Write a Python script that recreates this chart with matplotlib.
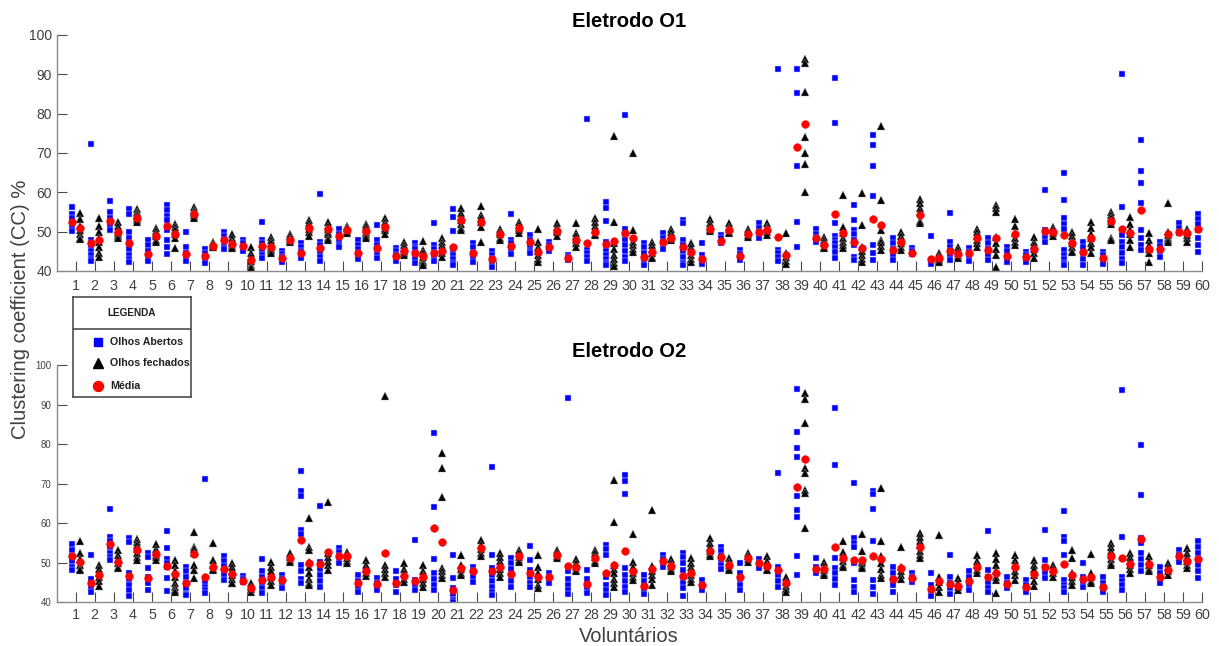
import numpy as np
import matplotlib
matplotlib.use("Agg")
import matplotlib.pyplot as plt

plt.rcParams['font.family'] = ['Liberation Sans', 'DejaVu Sans']

voluntarios = list(range(1, 61))
x_ticklabels = [str(v) for v in voluntarios]
y_ticks = [40, 50, 60, 70, 80, 90, 100]

# ---------------- Eletrodo O1 ----------------
o1_abertos = [
    [56.3, 54.5, 53.5, 52, 51, 50.2], [72.2, 48, 47, 46, 45, 44, 43, 42.5],
    [57.8, 55, 53.5, 52.5, 51.5, 50.5], [55.7, 54.5, 50, 48.5, 47, 45.5, 44, 43, 42.2],
    [47.8, 46.5, 45, 44, 43, 42.5], [56.8, 55.5, 54, 53, 50.5, 48, 46, 44.3],
    [50, 46.2, 44.5, 43.5, 42.5], [45.5, 44.5, 43.5, 42.5, 42],
    [50, 49, 48, 47, 46, 45.5], [48, 47, 46, 45.5, 45],
    [52.4, 48, 47, 46, 45, 44, 43.3], [45.2, 44.3, 43.5, 42.8, 42.4],
    [47, 46, 45, 44.5, 43.5, 43.2], [59.6, 47.5, 46.5, 45.5, 44.5, 43.5, 42.5],
    [50.6, 49.5, 48.5, 47.5, 46.5, 46], [47.8, 46.5, 45.5, 44.5, 43.5, 43],
    [51.8, 47.9, 46.5, 45, 44, 43.3], [45.8, 45, 44, 43.2, 42.5],
    [47, 46.2, 45.5, 44.5, 43, 42], [52.1, 46.6, 45.5, 44.5, 43.5, 42.5],
    [55.7, 53.8, 50.2, 45.3, 44, 43, 42, 41.5], [47, 46, 44.7, 43.5, 42.4],
    [45, 44, 43, 42, 41], [54.6, 47.9, 47, 46, 45, 44.2],
    [49.1, 48, 47, 46, 45, 44.5], [47.4, 46.5, 45.8, 45],
    [44.1, 43.5, 43, 42.8], [78.7, 45.3, 44.5, 43.5, 42.5],
    [57.5, 56, 52.8, 47.4, 46, 45, 44, 43, 42, 41.5], [79.6, 50.8, 49.5, 48, 46.5, 45, 43.5, 42.5],
    [47, 46, 44.5, 43, 42, 41.5], [49.6, 48.5, 47.5, 46.5, 45.5],
    [53, 52.2, 47.9, 46.5, 45, 43.5, 42, 41.5], [47.2, 44.1, 43, 42.2, 41.9],
    [49.1, 48.3, 47.5, 47], [45.3, 44.3, 43.5, 42.8],
    [52.1, 51, 50, 49, 48.3], [91.4, 45.3, 44.5, 43.5, 42.5],
    [91.4, 85.3, 66.6, 52.5, 46], [50.8, 49.5, 48.5, 47.4],
    [89.1, 77.6, 52.3, 49, 48, 47, 46, 44.9, 43.2], [56.8, 53, 50.5, 49.5, 48, 46.5, 43.6, 42.8],
    [74.7, 72.1, 66.7, 59, 46.6, 44.5, 42.8], [48.3, 47, 45.5, 44, 42.8],
    [45.8, 45, 44.2], [48.9, 42.8, 42.3, 41.9],
    [54.8, 47.4, 46.2, 45, 44, 42.8], [45.8, 44.8, 43.8, 42.5],
    [48.3, 47, 45.5, 44, 42.8], [46.2, 45, 43.5, 42.4],
    [44.9, 44, 43, 42.4], [60.6, 50.4, 49.5, 48.5, 47.5],
    [64.8, 58, 53.4, 52, 50.8, 45.3, 44, 43, 42, 41.5], [47.4, 46, 44.5, 43, 41.5],
    [44.9, 44, 43, 41.9], [90, 56.3, 49.1, 47.5, 46, 44.5, 43, 42],
    [73.2, 65.5, 62.4, 57.3, 50.4, 48.5, 46.5, 45.3], [47.4, 46.3, 45, 43.6],
    [52.1, 51, 50, 49.6], [54.6, 53.2, 52, 50.5, 48.5, 46.5, 44.9],
]
o1_abertos_media = [
    52.4, 47.2, 52.8, 47.0, 44.3, 51.5, 44.3, 43.8, 47.9, 46.3,
    46.3, 43.4, 44.7, 45.8, 48.9, 44.7, 45.8, 43.8, 44.7, 44.7,
    46.2, 44.7, 43.0, 46.3, 47.4, 46.2, 43.2, 47.2, 46.8, 49.6,
    43.6, 47.4, 46.2, 43.1, 47.7, 43.8, 50.0, 48.7, 71.6, 48.5,
    54.6, 47.4, 53.1, 45.3, 44.5, 43.0, 45.2, 44.5, 45.3, 43.8,
    43.5, 50.2, 49.1, 44.9, 43.2, 50.8, 55.5, 45.5, 50.0, 50.7,
]
o1_fechados = [
    [54.8, 53.2, 51.5, 50.5, 49.5, 48.5, 48.2], [53.5, 51.5, 50, 48.5, 47.5, 46, 44.5, 43.5],
    [52.5, 51.5, 50.5, 50, 49.5, 48.8, 48.5], [55.8, 55, 54.5, 54, 53.5, 53, 52.5],
    [51, 50.2, 49.5, 48.8, 48, 47.5], [52, 51.2, 50.5, 49.5, 48.5, 45.8],
    [56.3, 55.5, 55, 54.5, 54, 53.5], [47.5, 47, 46.5, 46.2, 46],
    [49.5, 48.5, 47.5, 47, 46.5, 46, 45.8], [46, 44.5, 43.5, 42.5, 41.5, 41, 40.7],
    [48.7, 48, 47, 46, 45.5, 45, 44.5], [49.5, 48.8, 48.2, 47.8, 47.5],
    [53, 52.3, 51.5, 50.8, 50, 48.8], [52.5, 51.5, 50.8, 50, 49.5, 48.5, 48],
    [51.5, 51, 50.5, 50, 49.7], [52, 51.5, 50.8, 50, 49.5, 49, 48.5],
    [53.4, 52.5, 51.8, 51, 50.3, 49.5], [47.4, 46.5, 45.8, 45, 44.5, 44],
    [47.7, 45.3, 44.5, 43.5, 42.5, 42, 41.5], [48.3, 47.5, 46.5, 45.5, 44.5, 43.5],
    [55.9, 54.8, 53.8, 53, 52, 51, 50.4], [56.5, 54.2, 53.5, 52.5, 51.3, 47.5],
    [50.6, 50, 49.3, 48.5, 48], [52.5, 51.8, 51, 50.3, 49.6],
    [50.8, 47.4, 46, 45, 44, 43, 42.4], [52.1, 51.3, 50.5, 49.8, 49],
    [52.1, 49.6, 48.8, 48, 47.2, 46.2], [53.4, 52.5, 51.5, 50.5, 49.5, 49.1],
    [74.3, 52.5, 47, 45.5, 44, 43, 42, 41.2], [70, 50.4, 47.4, 46.5, 45.5, 44.9],
    [47.4, 46.5, 45.5, 44.5, 43.5, 43.2], [50.6, 49.8, 49, 48.3, 48],
    [47, 46, 45, 44, 43, 42.4], [53.1, 52.3, 51.5, 50.8, 50.2],
    [52.1, 51.3, 50.6, 50, 49.6], [50.6, 49.8, 49.2, 48.7],
    [52.1, 51.3, 50.6, 49.8, 49.1], [49.7, 44.7, 43.5, 42.5, 41.9],
    [93.8, 93, 85.5, 74.1, 70, 67.3, 60], [48.7, 47.8, 47, 46.2, 45.8],
    [59.3, 51.3, 49.6, 48.5, 47.5, 46.5, 45.8], [59.9, 51.7, 46.2, 45, 44, 43, 42.4],
    [76.8, 58, 50.4, 48, 47.4, 46.3, 45.3], [50, 49, 48, 47, 46, 45.3],
    [58.4, 57.2, 56, 55, 52.8, 52.1], [44.5, 43.8, 43.2, 42.8, 42.4],
    [46.2, 45.3, 44.5, 43.8, 43.2], [50.8, 49.8, 48.8, 47.8, 47, 46.2],
    [56.8, 56, 55, 48.7, 47, 45.5, 44.1, 40.9], [53.1, 51.5, 49.6, 48.5, 47.5, 46.6],
    [48.7, 47.5, 46.5, 45.5, 44.5, 43.2], [51.3, 50.5, 49.7, 48.9],
    [50, 49, 48, 47, 46, 45, 44.9], [52.5, 51, 49.5, 48.3, 47, 46, 44.5],
    [55, 54.3, 53.5, 52.8, 52, 48.5, 47.9], [53.8, 52, 50.5, 49.5, 48, 46.2],
    [49.6, 48, 46.5, 45.5, 44.5, 42.4], [57.2, 50, 49.2, 48.5, 47.8, 47.4],
    [50.8, 50, 49.2, 48.3, 47.4], [],
]
o1_fechados_media = [
    51.0, 47.9, 50.0, 53.4, 49.0, 49.4, 54.4, 46.3, 46.9, 42.8,
    46.2, 47.9, 51.0, 50.6, 50.4, 50.2, 51.3, 45.2, 43.8, 45.2,
    52.9, 52.5, 49.3, 51.0, 44.9, 50.2, 47.9, 50.0, 47.6, 48.5,
    44.9, 48.5, 44.9, 50.8, 50.4, 49.4, 50.4, 44.1, 77.3, 46.6,
    49.6, 45.8, 51.8, 47.4, 54.2, 43.4, 44.3, 48.3, 48.5, 49.3,
    45.5, 49.8, 47.0, 48.3, 52.8, 49.7, 45.5, 49.4, 49.6, np.nan,
]

# ---------------- Eletrodo O2 ----------------
o2_abertos = [
    [54.8, 53.3, 51.8, 50.5, 49, 48.2], [52, 46, 44.5, 43.5, 42.7],
    [63.6, 56.6, 55.5, 54, 52.5, 51.5, 50.7], [56.4, 55.3, 47.3, 46, 44.5, 43, 41.5],
    [52.5, 51.5, 48.6, 46.5, 45, 43.2], [58.1, 53.7, 51, 50, 49, 46.1, 42.9],
    [49, 47.8, 46.5, 45, 43.5, 42, 41.8], [71.2, 45.2, 44, 43, 42.3],
    [51.6, 50.5, 49.3, 48, 47, 45.7], [46.7, 46, 45.2],
    [50.9, 47.8, 46.5, 45, 43.5, 42.3], [46.9, 45.8, 44.5, 43.5],
    [73.2, 68.2, 67, 58.3, 57.2, 49.5, 48, 46, 44.8], [64.5, 50.3, 48.5, 47, 45.5, 44],
    [53.7, 52.8, 51.8, 50.8, 49.9], [46.9, 45.5, 44, 42.7],
    [46.1, 45, 44, 43.1], [47.8, 46, 44.5, 42.7],
    [55.8, 45.7, 44.5, 43.1], [82.8, 64.2, 50.9, 47.3, 46, 44.5, 43.1],
    [52, 46.1, 43.5, 42, 40.5, 40.2], [49, 47.8, 46.5, 45.2],
    [74.3, 52, 48.6, 47, 45.5, 44, 42.5, 41.9], [51.1, 50, 48.5, 47, 45.5, 44],
    [54.3, 50.7, 48.2, 46.5, 45, 44], [47.5, 46.3, 45.2, 44.8],
    [91.8, 47.8, 46, 44.5, 43, 42.1], [48.2, 46, 44.5, 43.3, 42.3],
    [54.5, 53.5, 52, 46.3, 44.4, 43, 41.9], [72.2, 70.7, 67.3, 48.6, 47, 45.5, 44, 42.7],
    [46.9, 45.5, 44, 43, 42.1], [52, 51, 50, 49],
    [52.4, 51.5, 50, 48.2, 46.5, 45, 43.5, 41.7], [45.7, 44.5, 43.1],
    [54.1, 53, 51.8, 50.5, 49.5, 48.4], [49.9, 47.3, 46, 44.5, 43.1],
    [50.9, 50, 49.2, 48.6], [72.7, 49, 47, 45.5, 44],
    [93.9, 83.2, 79, 76.9, 66.8, 63.4, 61.7, 51.6, 46.9], [51.1, 49, 48, 47.3],
    [89.1, 74.8, 51.1, 48.6, 47.5, 46, 44.4], [70.3, 56.2, 55, 54.1, 49.9, 45.7, 44, 42.7],
    [68.2, 67.3, 63.6, 55.5, 45.7, 44, 42.1], [49, 47.5, 46, 44.5, 42.7],
    [47.5, 46.5, 45.2], [47.5, 44.4, 43, 41.6],
    [52, 46.5, 45, 43.5, 42.1], [47.8, 46.3, 44.5, 43.1],
    [58.1, 48.2, 46.5, 45, 43.5, 42.7], [46.3, 45, 43.5],
    [45.7, 44.5, 43.3, 42.7], [58.3, 50.7, 49, 47.5, 46.1],
    [63, 56.6, 55.5, 52, 45.7, 44.5, 43.5, 42.7], [49.9, 46.5, 45.2, 44],
    [46.5, 45, 43.8, 42.7], [93.8, 56.5, 46.5, 45.5, 44.3, 43.1],
    [79.7, 67.2, 56.2, 54.9, 52.5, 51, 49.5, 47.8], [49, 47.5, 46, 44.8],
    [53.2, 52, 51, 50.3], [55.4, 54, 52.5, 51, 49.5, 48, 46.1],
]
o2_abertos_media = [
    51.7, 45.0, 54.7, 46.7, 46.1, 49.2, 44.8, 46.5, 48.4, 45.4,
    45.7, 45.7, 55.8, 49.7, 51.7, 44.8, 44.6, 44.8, 45.4, 58.9,
    43.1, 47.8, 47.9, 47.2, 47.5, 46.3, 49.2, 44.6, 47.3, 53.1,
    44.1, 50.5, 46.7, 44.4, 51.4, 46.3, 49.9, 48.2, 69.3, 48.4,
    54.1, 50.7, 51.7, 45.9, 46.2, 43.3, 44.6, 45.4, 46.3, 44.6,
    43.8, 48.9, 49.6, 45.8, 43.8, 51.3, 55.9, 46.3, 51.6, 50.9,
]
o2_fechados = [
    [55.4, 52.4, 51, 49.5, 48.5, 48.2], [49.5, 48.5, 47.5, 46.5, 45.5, 44.1],
    [53.2, 52, 51, 50, 49, 48.6], [56, 55.3, 54.5, 53.5, 52.5, 51.5, 50.8],
    [54.8, 53.5, 52.8, 52, 51.5, 50.8], [50.7, 49.5, 48, 46.5, 45, 44, 43, 42.7],
    [57.9, 54.1, 53.5, 52.4, 49.4, 48.2, 46.1], [55.1, 50.7, 49.5, 48.5, 48.2],
    [50, 49, 48, 47, 46, 45, 44.8], [44.8, 44, 43.3, 42.7],
    [50.3, 49, 48, 46.5, 45.5, 44.4], [52.4, 51.5, 50.8, 50.3],
    [61.3, 54.1, 53.2, 50.3, 49, 47.5, 46, 45, 44.4], [65.3, 52.4, 51.5, 50.5, 49.5, 48.2],
    [52.8, 52, 51.3, 50.5, 49.9], [50.7, 49.5, 48.5, 47.5, 46.7],
    [92.2, 49.5, 48.5, 47.5, 46.5], [49.9, 48.5, 47.3, 46, 45.2],
    [49.5, 48, 47, 46, 45, 44], [77.7, 73.9, 66.6, 48.8, 48, 47, 46.1],
    [52, 49.5, 48.5, 47.5, 46.9], [55.8, 54.5, 53.5, 52.5, 51.6],
    [52.4, 51.5, 50.5, 49.5, 48.5, 47.5, 46.5], [53.2, 52.4, 51.5, 50.8, 50.3],
    [52, 49, 47.3, 46, 44.5, 43.5], [53.2, 52.5, 51.8, 51.1],
    [50.9, 50, 49, 48.3, 47.8], [53.2, 52.4, 51.5, 50.5, 49.9],
    [71, 60.4, 49.5, 48.5, 47.5, 46, 45, 44], [57.3, 50.3, 49, 47.5, 46.5, 45.7],
    [63.4, 49.2, 48, 47, 45.8, 44.4], [50.9, 50, 49.2, 48.4, 47.8],
    [51.1, 50, 49, 48, 47, 46, 45.2], [56.2, 55, 54, 53, 52.2, 51.6],
    [51.1, 50.3, 49.5, 48.8, 48.2], [52.4, 51.6, 50.9, 50.3],
    [51.6, 50.5, 49.5, 48.5, 48.2], [46.3, 45.2, 44.2, 43.3, 42.7],
    [92.9, 91.4, 85.3, 73.9, 72.8, 68.4, 67.6, 58.7], [50.3, 49.3, 48.3, 47.5, 46.9],
    [55.4, 52.8, 51.5, 50.5, 49.5, 49], [57.2, 53, 50.5, 49.9, 49.2, 48.6],
    [68.9, 55.4, 51.6, 50, 48.5, 47, 46.1], [54.1, 49, 48, 47, 45.8],
    [57.5, 56.5, 55.5, 54.5, 53, 52, 51.1], [57, 46.5, 45.2, 44, 42.7],
    [46.1, 45, 44, 43.1], [52, 50.5, 49.5, 48.3, 47.3],
    [52.4, 51, 49.5, 48, 46.5, 45.7, 42.3], [52, 50.8, 49.5, 48, 46.8, 45.7],
    [50.7, 49.5, 48.5, 47, 45.5, 44.1], [49.5, 48.5, 47.5, 46.5],
    [53.2, 51.1, 47.3, 46.5, 45.5, 44.4], [52.2, 47.3, 46.3, 45.5, 44.8],
    [54.9, 54, 53, 52, 51, 50, 49.5], [52.4, 51.5, 50.5, 49.5, 48.5, 47.3],
    [51.6, 50.5, 49.5, 48.5, 47.8], [49.9, 49, 48, 46.9],
    [53.7, 52.5, 51.5, 50.5, 49.5, 48.6], [],
]
o2_fechados_media = [
    50.3, 46.9, 50.3, 53.2, 52.2, 47.1, 52.2, 49.0, 47.2, 43.5,
    46.3, 51.1, 50.0, 52.8, 51.7, 47.8, 52.4, 46.7, 46.3, 55.2,
    48.6, 53.7, 49.0, 51.8, 46.3, 52.0, 49.0, 51.1, 49.5, 47.8,
    48.4, 49.2, 47.5, 53.0, 49.5, 51.1, 49.2, 44.8, 76.2, 48.4,
    51.3, 50.7, 50.9, 48.6, 53.9, 45.5, 44.2, 49.0, 47.5, 48.9,
    47.2, 47.8, 46.9, 46.5, 51.7, 49.7, 49.7, 48.2, 50.5, np.nan,
]

W, H = 1219, 646
fig = plt.figure(figsize=(W / 100, H / 100), dpi=100)

AX_L, AX_R = 56.5, 1202
ax1 = fig.add_axes([AX_L / W, (H - 271) / H, (AX_R - AX_L) / W, 236 / H])
ax2 = fig.add_axes([AX_L / W, (H - 602.3) / H, (AX_R - AX_L) / W, 237 / H])

OFF = 0.21
BLUE = '#0000ff'
SPINE = '#8a8a8a'
TXT = '#404040'


def flatten(groups, shift):
    xs, ys = [], []
    for v, vals in zip(voluntarios, groups):
        for y in vals:
            xs.append(v + shift)
            ys.append(y)
    return xs, ys


def draw_panel(ax, abertos, ab_media, fechados, fe_media, title, ylab_size, xpad):
    xa, ya = flatten(abertos, -OFF)
    xf, yf = flatten(fechados, OFF)
    ax.plot(xa, ya, ls='none', marker='s', ms=4.5, mfc=BLUE, mec='#d0d0ff', mew=0.35)
    ax.plot(xf, yf, ls='none', marker='^', ms=6.3, mfc='black', mec='#9a9a9a', mew=0.3)
    xm = [v - OFF for v in voluntarios] + [v + OFF for v in voluntarios]
    ym = list(ab_media) + list(fe_media)
    ax.plot(xm, ym, ls='none', marker='o', ms=5.6, mfc='red', mec='red', mew=0.3)
    ax.set_xlim(0, 60)
    ax.set_ylim(40, 100)
    ax.set_xticks(voluntarios)
    ax.set_xticklabels(x_ticklabels)
    ax.set_yticks(y_ticks)
    for s in ['top', 'right']:
        ax.spines[s].set_visible(False)
    for s in ['left', 'bottom']:
        ax.spines[s].set_color(SPINE)
        ax.spines[s].set_linewidth(1.0)
    ax.tick_params(axis='both', direction='in', length=7.2, width=0.8, color='#4a4a4a')
    ax.tick_params(axis='x', labelsize=10.3, labelcolor=TXT, pad=xpad)
    ax.tick_params(axis='y', labelsize=ylab_size, labelcolor=TXT, pad=3.5)
    ax.set_title(title, fontsize=14.5, fontweight='bold', pad=6, color='black')


draw_panel(ax1, o1_abertos, o1_abertos_media, o1_fechados, o1_fechados_media,
           'Eletrodo O1', 10.0, 5.8)
draw_panel(ax2, o2_abertos, o2_abertos_media, o2_fechados, o2_fechados_media,
           'Eletrodo O2', 6.9, 4.4)

fig.text(21 / W, 1 - 309 / H, 'Clustering coefficient (CC) %', rotation=90,
         ha='center', va='center', fontsize=14.6, color=TXT)
fig.text(628.5 / W, 1 - 641.7 / H, 'Voluntários', ha='center', va='baseline',
         fontsize=14.5, color=TXT)

# Legend box (MATLAB-style with title separator)
LX0, LY0, LW, LH = 73, 297, 118, 100
lax = fig.add_axes([LX0 / W, 1 - (LY0 + LH) / H, LW / W, LH / H])
lax.set_xlim(0, LW)
lax.set_ylim(LH, 0)
lax.set_xticks([])
lax.set_yticks([])
for s in lax.spines.values():
    s.set_color('#404040')
    s.set_linewidth(1.1)
lax.axhline(32, color='#404040', lw=1.1)
lax.text(59, 16, 'LEGENDA', ha='center', va='center', fontsize=7.2,
         fontweight='bold', color='#202020')
legend_labels = ['Olhos Abertos', 'Olhos fechados', 'Média']
legend_styles = [('s', BLUE, 6.0), ('^', 'black', 7.5), ('o', 'red', 7.2)]
legend_y = [45.3, 66, 89.3]
for lab, (mk, col, ms), yy in zip(legend_labels, legend_styles, legend_y):
    lax.plot([24.5], [yy], ls='none', marker=mk, ms=ms, mfc=col, mec=col)
    lax.text(37, yy, lab, ha='left', va='center', fontsize=7.7,
             fontweight='bold', color='#202020')

fig.savefig('out.png', dpi=100)
